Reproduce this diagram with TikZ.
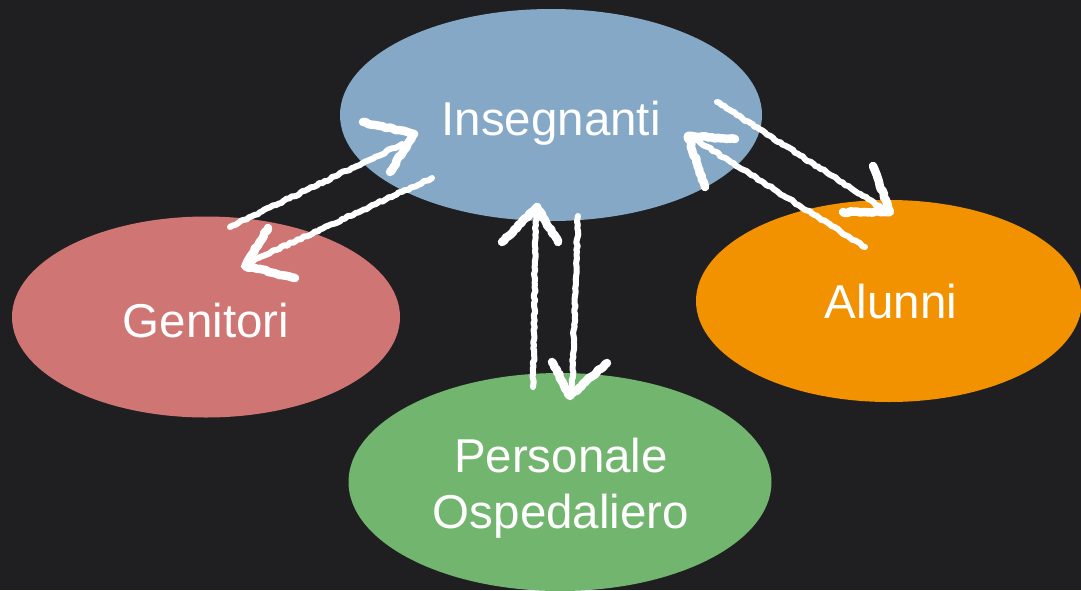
\documentclass[tikz,border=0pt]{standalone}
\usepackage{fontspec}
\setmainfont{Liberation Sans}
\usetikzlibrary{shapes.geometric,decorations.pathmorphing}
\definecolor{board}{RGB}{31,31,33}
\definecolor{insblue}{RGB}{133,168,198}
\definecolor{genred}{RGB}{207,117,115}
\definecolor{alorange}{RGB}{242,146,0}
\definecolor{pergreen}{RGB}{114,181,110}
\begin{document}
\begin{tikzpicture}[x=1pt,y=-1pt,
  bubble/.style={ellipse,draw=none,inner sep=0pt},
  lbl/.style={text=white,font=\fontsize{47.5}{56}\selectfont,inner sep=0pt,align=center},
  chalk/.style={draw=white,line width=6pt,line cap=round,line join=round,
    decorate,decoration={random steps,segment length=3pt,amplitude=0.9pt}},
  chalkhead/.style={chalk,line width=8.5pt}]
\pgfmathsetseed{7}
\fill[board] (0,0) rectangle (1081,590);
\useasboundingbox (0,0) rectangle (1081,590);
% bubbles
\node[bubble,fill=insblue,minimum width=422pt,minimum height=212pt] (ins) at (551,115) {};
\node[bubble,fill=genred,minimum width=388pt,minimum height=201pt] (gen) at (206,317) {};
\node[bubble,fill=alorange,minimum width=386pt,minimum height=202pt] (alu) at (889,301) {};
\node[bubble,fill=pergreen,minimum width=423pt,minimum height=218pt] (per) at (560,482) {};
% labels
\node[lbl,anchor=base] (insl) at (551,135) {Insegnanti};
\node[lbl,anchor=base] (genl) at (206,337) {Genitori};
\node[lbl,anchor=base] (alul) at (891,318) {Alunni};
\node[lbl,anchor=center] (perl) at (561,488) {Personale\\Ospedaliero};
% arrow end points
\coordinate (as) at (230,227); \coordinate (ae) at (402,144);
\coordinate (aa) at (363,122); \coordinate (at) at (414,134); \coordinate (ab) at (390,172);
\coordinate (bs) at (432,178); \coordinate (be) at (250,262);
\coordinate (ba) at (268,228); \coordinate (bt) at (245,266); \coordinate (bb) at (295,278);
\coordinate (cs) at (717,102); \coordinate (ce) at (885,210);
\coordinate (ca) at (873,166); \coordinate (ct) at (890,212); \coordinate (cb) at (843,212);
\coordinate (ds) at (865,247); \coordinate (de) at (693,138);
\coordinate (da) at (705,187); \coordinate (dt) at (688,136); \coordinate (db) at (735,139);
\coordinate (es) at (533,387); \coordinate (ee) at (536,212);
\coordinate (ea) at (502,242); \coordinate (et) at (537,207); \coordinate (eb) at (558,242);
\coordinate (fs) at (578,216); \coordinate (fe) at (572,390);
\coordinate (fa) at (552,362); \coordinate (ft) at (570,396); \coordinate (fb) at (607,363);
% chalk arrows
\draw[chalk] (as) -- (ae); \draw[chalkhead] (aa) -- (at) -- (ab);
\draw[chalk] (bs) -- (be); \draw[chalkhead] (ba) -- (bt) -- (bb);
\draw[chalk] (cs) -- (ce); \draw[chalkhead] (ca) -- (ct) -- (cb);
\draw[chalk] (ds) -- (de); \draw[chalkhead] (da) -- (dt) -- (db);
\draw[chalk] (es) -- (ee); \draw[chalkhead] (ea) -- (et) -- (eb);
\draw[chalk] (fs) -- (fe); \draw[chalkhead] (fa) -- (ft) -- (fb);
\end{tikzpicture}
\end{document}
